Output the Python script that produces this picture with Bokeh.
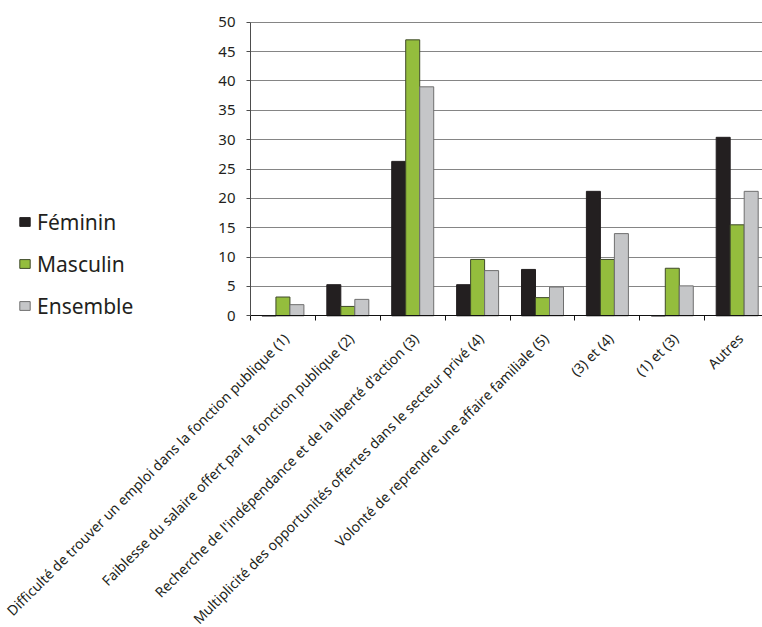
import math

from bokeh.embed import file_html
from bokeh.models import (BoxAnnotation, ColumnDataSource, FixedTicker, Legend,
                          LegendItem, Range1d)
from bokeh.plotting import figure
from bokeh.resources import INLINE

# Motifs de choix (catégories) et pourcentages par sexe
categories = [
    "Difficulté de trouver un emploi dans la fonction publique (1)",
    "Faiblesse du salaire offert par la fonction publique (2)",
    "Recherche de l'indépendance et de la liberté d'action (3)",
    "Multiplicité des opportunités offertes dans le secteur privé (4)",
    "Volonté de reprendre une affaire familiale (5)",
    "(3) et (4)",
    "(1) et (3)",
    "Autres",
]
feminin = [0.0, 5.3, 26.3, 5.3, 7.9, 21.2, 0.0, 30.4]
masculin = [3.2, 1.6, 47.0, 9.6, 3.1, 9.6, 8.1, 15.5]
ensemble = [1.9, 2.8, 39.0, 7.7, 4.9, 14.0, 5.1, 21.2]
series_names = ["Féminin", "Masculin", "Ensemble"]
y_ticks = [0, 5, 10, 15, 20, 25, 30, 35, 40, 45, 50]

TEXT = "#231f20"
FONT = "Noto Sans"

n = len(categories)
X_END = 7.89
Y_MAX = 50
# the frame fills the whole canvas; the bar area is x in [0, X_END], y in [0, Y_MAX]
p = figure(
    width=762, height=627,
    x_range=Range1d(-3.852, X_END), y_range=Range1d(-53.08, 53.70),
    output_backend="svg", toolbar_location=None,
    min_border=0,
)
p.outline_line_color = None
p.background_fill_color = "white"
p.border_fill_color = "white"

# grid
p.xgrid.visible = False
p.ygrid.ticker = FixedTicker(ticks=y_ticks)
p.ygrid.grid_line_color = "#858585"
p.ygrid.grid_line_width = 1.2
if hasattr(p.ygrid[0], "cross_bounds"):
    p.ygrid.cross_bounds = (0, X_END)
else:
    p.add_layout(BoxAnnotation(right=0, fill_color="white", fill_alpha=1,
                               line_color=None, level="underlay"))

# y axis, drawn at x = 0
p.yaxis.fixed_location = 0
p.yaxis.bounds = (0, Y_MAX)
p.yaxis.ticker = FixedTicker(ticks=y_ticks)
p.yaxis.axis_line_color = "#4d4d4d"
p.yaxis.major_tick_line_color = "#4d4d4d"
p.yaxis.major_tick_out = 4
p.yaxis.major_tick_in = 0
p.yaxis.minor_tick_line_color = None
p.yaxis.major_label_text_font = FONT
p.yaxis.major_label_text_font_size = "15px"
p.yaxis.major_label_text_color = TEXT
p.yaxis.major_label_standoff = 11

# x axis at y = 0: labels hang from each category centre, small marks between groups
label_pos = [i + 0.5 + 0.05 for i in range(n)]
p.xaxis.fixed_location = 0
p.xaxis.bounds = (0, X_END)
p.xaxis.ticker = FixedTicker(ticks=label_pos, minor_ticks=list(range(n)))
p.xaxis.major_label_overrides = {pos: cat for pos, cat in zip(label_pos, categories)}
p.xaxis.major_label_orientation = math.pi / 4
p.xaxis.major_label_text_font = FONT
p.xaxis.major_label_text_font_size = "14px"
p.xaxis.major_label_text_color = TEXT
p.xaxis.major_label_standoff = 15
p.xaxis.axis_line_color = "#111111"
p.xaxis.major_tick_line_color = None
p.xaxis.major_tick_out = 0
p.xaxis.major_tick_in = 0
p.xaxis.minor_tick_line_color = "#111111"
p.xaxis.minor_tick_out = 5
p.xaxis.minor_tick_in = 0

# grouped bars
bar_w = 0.2157
styles = [
    ("#231f20", "#231f20"),
    ("#94bd3d", "#3f4a2a"),
    ("#c5c6c8", "#6f6f6f"),
]
renderers = []
for j, (vals, (fill, line)) in enumerate(zip([feminin, masculin, ensemble], styles)):
    off = (j - 1) * bar_w
    src = ColumnDataSource(dict(x=[i + 0.5 + off for i in range(n)], top=vals))
    r = p.vbar(x="x", top="top", width=bar_w, source=src,
               fill_color=fill, line_color=line, line_width=1)
    renderers.append(r)

legend = Legend(
    items=[LegendItem(label=nm, renderers=[r]) for nm, r in zip(series_names, renderers)],
    location=(18, 307),
    orientation="vertical",
    padding=0, margin=0, spacing=13,
    glyph_width=13, glyph_height=11, label_height=29,
    label_standoff=6,
    label_text_font=FONT, label_text_font_size="21px", label_text_color=TEXT,
    background_fill_alpha=0, border_line_alpha=0,
)
p.add_layout(legend, "center")

open("out.html", "w").write(file_html(p, INLINE))
